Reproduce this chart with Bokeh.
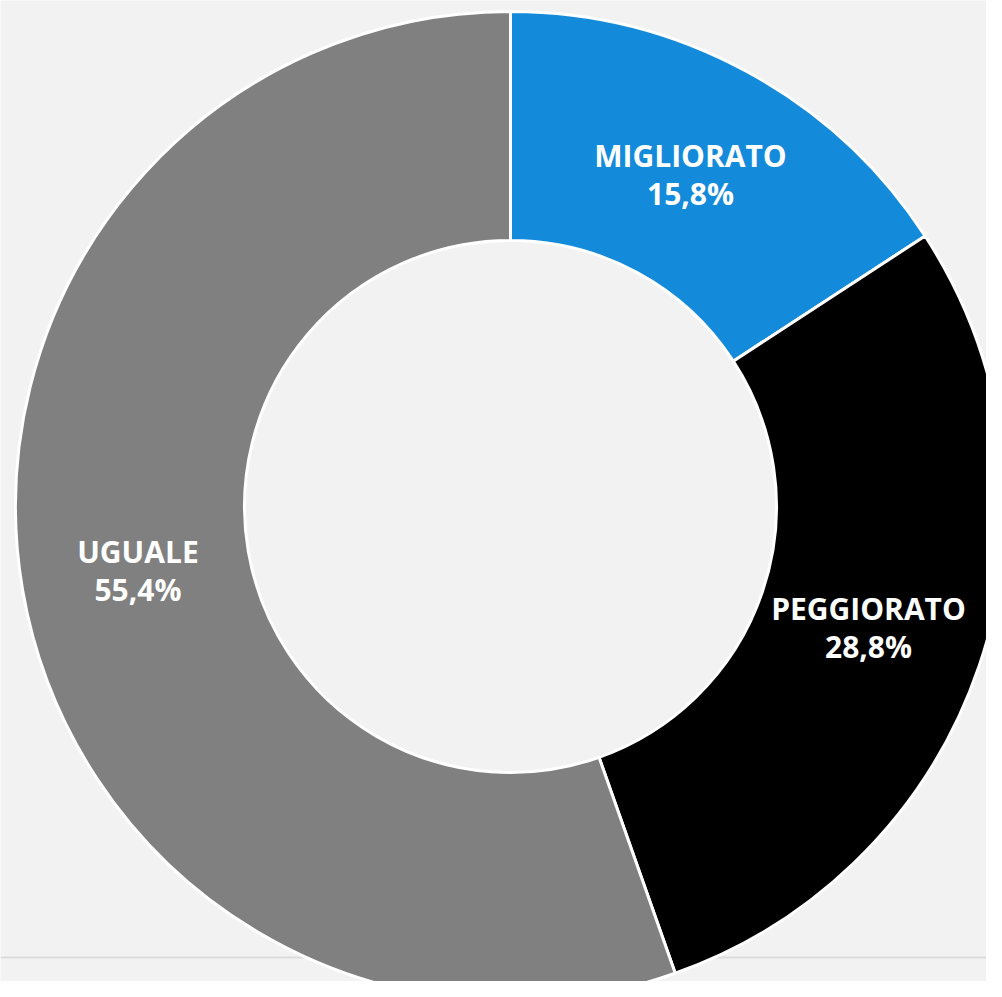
import math
from bokeh.plotting import figure
from bokeh.models import Range1d, ColumnDataSource
from bokeh.core.properties import value
from bokeh.embed import file_html
from bokeh.resources import INLINE

categories = ["MIGLIORATO", "PEGGIORATO", "UGUALE"]
shares = [15.8, 28.8, 55.4]
pct_labels = ["15,8%", "28,8%", "55,4%"]
colors = ["#148ADB", "#000000", "#808080"]

W, H = 986, 981
CX, CY = 510, 506  # centre in figure pixels from top-left
p = figure(width=W, height=H, output_backend="svg", toolbar_location=None,
           x_range=Range1d(-CX, W - CX), y_range=Range1d(-(H - CY), CY),
           min_border=0, outline_line_color=None,
           background_fill_color="#F2F2F2", border_fill_color="#F2F2F2")
p.axis.visible = False
p.grid.visible = False

# thin separator line near bottom
p.segment(x0=[-CX], y0=[-451], x1=[W - CX], y1=[-451], line_color="#DCDCDC", line_width=2)

total = sum(shares)
starts, ends, mids = [], [], []
cum = 0.0
for s in shares:
    a0 = math.pi / 2 - 2 * math.pi * cum / total
    cum += s
    a1 = math.pi / 2 - 2 * math.pi * cum / total
    starts.append(a0)
    ends.append(a1)
    mids.append((a0 + a1) / 2)

src = ColumnDataSource(dict(cat=categories, pct=pct_labels, color=colors,
                            start=starts, end=ends,
                            lx=[378 * math.cos(m) for m in mids],
                            ly=[378 * math.sin(m) for m in mids]))

p.annular_wedge(x=0, y=0, inner_radius=266, outer_radius=495,
                start_angle="start", end_angle="end", direction="clock",
                fill_color="color", line_color="white", line_width=3, source=src)

font = value("Open Sans")
p.text(x="lx", y="ly", text="cat", source=src, text_color="white",
       text_font=font, text_font_style="bold", text_font_size="30px",
       text_align="center", text_baseline="middle", y_offset=-19)
p.text(x="lx", y="ly", text="pct", source=src, text_color="white",
       text_font=font, text_font_style="bold", text_font_size="30px",
       text_align="center", text_baseline="middle", y_offset=19)

open("out.html", "w").write(file_html(p, INLINE))
